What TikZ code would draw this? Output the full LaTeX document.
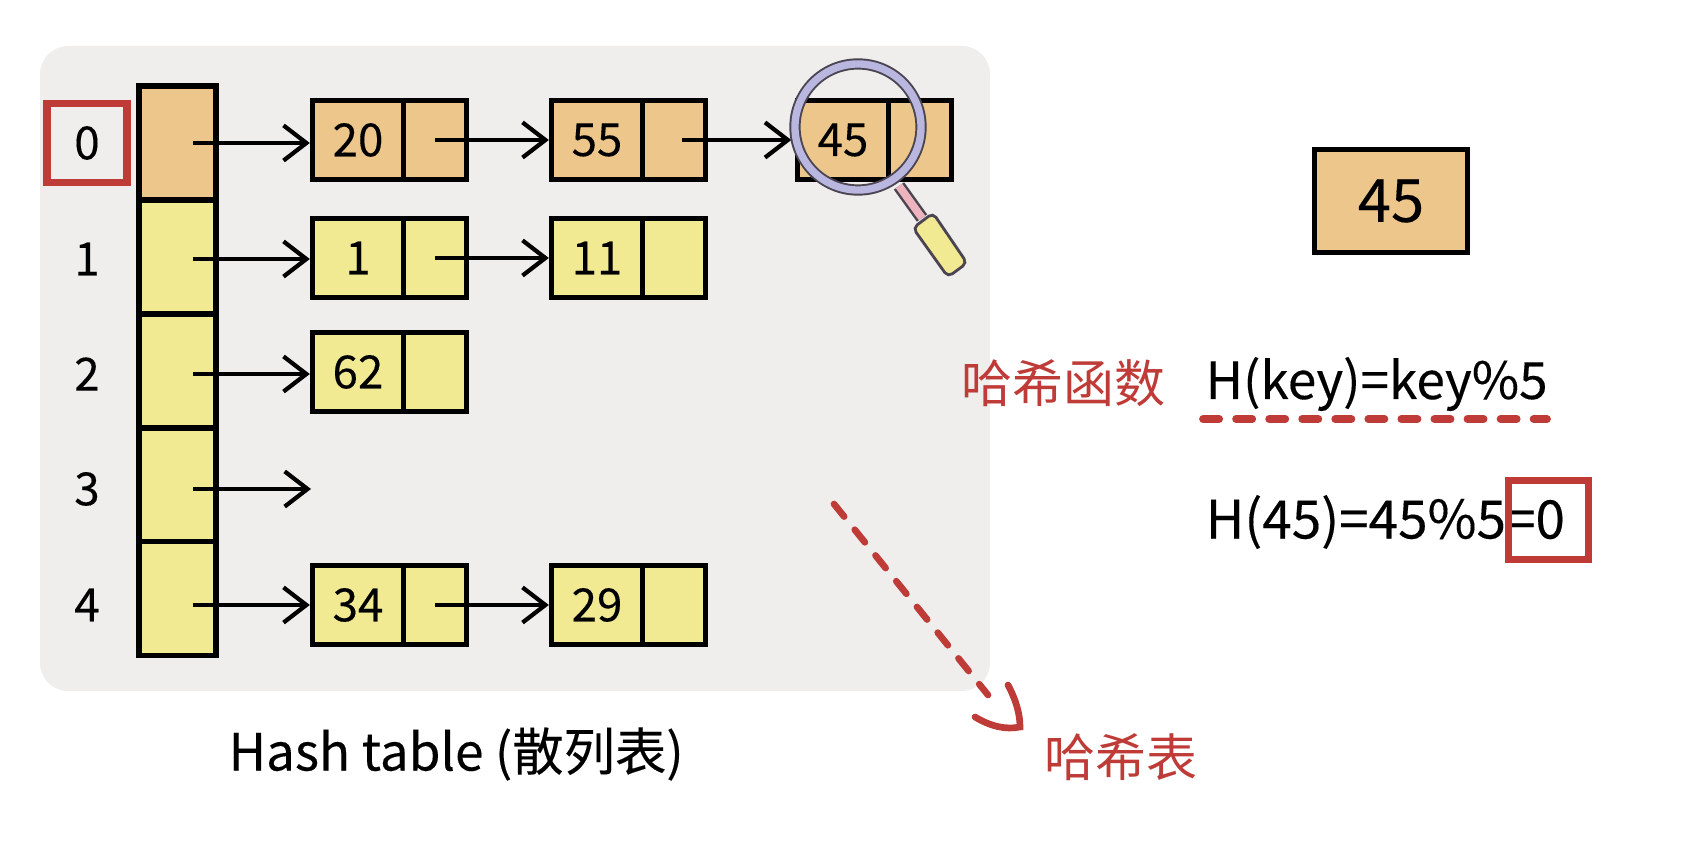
\documentclass[tikz,border=0pt]{standalone}
\usepackage{fontspec}
\setmainfont[FakeBold=0.25]{Noto Sans CJK SC}
\newfontfamily\cjk{Noto Sans CJK SC}
\usetikzlibrary{arrows.meta,positioning}
\definecolor{cellorange}{HTML}{EDC68B}
\definecolor{cellyellow}{HTML}{F2EA93}
\definecolor{panelgray}{HTML}{EFEEED}
\definecolor{markred}{HTML}{BF3B37}
\definecolor{lensblue}{HTML}{B9B6E0}
\definecolor{lensdark}{HTML}{4A4550}
\definecolor{stempink}{HTML}{EDB4C0}
\tikzset{
  bucket/.style={draw,line width=1.5pt,minimum width=0.77cm,minimum height=1.14cm,inner sep=0pt},
  keycell/.style={draw,line width=1.5pt,minimum width=0.91cm,minimum height=0.79cm,inner sep=0pt,font=\fontsize{13}{13}\selectfont},
  nextcell/.style={draw,line width=1.5pt,minimum width=0.63cm,minimum height=0.79cm,inner sep=0pt},
  indexlabel/.style={inner sep=0pt,font=\fontsize{13}{13}\selectfont},
  redbox/.style={draw=markred,line width=2.1pt,minimum width=0.8cm,minimum height=0.79cm,inner sep=0pt},
  link/.style={line width=1.2pt,-{Straight Barb[length=6.5pt,width=10pt,line width=1.2pt]}},
  redtext/.style={text=markred,font=\fontsize{14.5}{14.5}\selectfont\cjk,inner sep=0pt},
  formula/.style={inner sep=0pt,font=\fontsize{14.6}{14.6}\selectfont},
  reddash/.style={markred,line width=1.9pt,dash pattern=on 4.6pt off 4.8pt,line cap=round}
}
\begin{document}
\begin{tikzpicture}[x=0.01cm,y=-0.01cm]
  \useasboundingbox (0,0) rectangle (1696,864);
  \fill[panelgray,rounded corners=0.28cm] (40,46) rectangle (990,691);

  \foreach \i/\y/\col in {0/143/cellorange,1/257/cellyellow,2/371/cellyellow,3/485/cellyellow,4/598.5/cellyellow}
  {\node[bucket,fill=\col] (b\i) at (177.5,\y) {};};

  \foreach \i/\y in {0/143,1/259,2/374,3/489,4/605}
  {\node[indexlabel] (i\i) at (87,\y) {\i};
   \coordinate (s\i) at (193,\y);
  };
  \node[redbox] (hit) at (87,143) {};

  \foreach \val/\x/\y/\col in {20/358/140/cellorange,
                               55/597/140/cellorange,
                               45/843/140/cellorange,
                               1/358/258/cellyellow,
                               11/597/258/cellyellow,
                               62/358/372/cellyellow,
                               34/358/605/cellyellow,
                               29/597/605/cellyellow}
  {\node[keycell,fill=\col] (k\val) at (\x,\y) {\val};
   \node[nextcell,fill=\col,right=-1.5pt of k\val] (p\val) {};
  };

  \foreach \i/\val in {0/20,1/1,2/62,4/34}
  {\draw[link] (s\i) -- (k\val.west |- s\i);};
  \coordinate (e3) at (311,489);
  \draw[link] (s3) -- (e3);

  \foreach \from/\to in {20/55,1/11,34/29}
  {\draw[link] (p\from.center) -- (k\to.west |- p\from.center);};
  \draw[link,shorten >=1pt] ([xshift=0.08cm]p55.center) -- (k45.west);

  % magnifier
  \draw[lensdark,line width=3.2pt] (858,127) circle (0.63cm);
  \draw[lensblue,line width=2.1pt] (858,127) circle (0.63cm);
  \draw[lensdark,line width=3.6pt] (899,186) -- (922,218);
  \draw[stempink,line width=2.2pt] (899,186) -- (922,218);
  \draw[lensdark,fill=cellyellow,line width=0.8pt,rounded corners=1.5pt] (913,228) -- (933,213) -- (967,263) -- (948,277) -- cycle;

  \node[keycell,fill=cellorange,minimum width=1.53cm,minimum height=1.03cm,font=\fontsize{17}{17}\selectfont] (query) at (1391,201) {45};

  \node[redtext,anchor=west] (hashname) at (961,383) {哈希函数};
  \node[formula,anchor=west] (hashfn) at (1205,384) {H(key)=key\%5};
  \coordinate (ul) at (1203,419);
  \coordinate (ur) at (1547,419);
  \draw[reddash,line width=2.2pt] (ul) -- (ur);

  \node[formula,anchor=west,font=\fontsize{15.1}{15.1}\selectfont] (hashval) at (1205,522) {H(45)=45\%5=0};
  \node[redbox] (result) at (1548.5,520) {};

  \node[anchor=west,inner sep=0pt,font=\fontsize{14.6}{14.6}\selectfont] (caption) at (228,754) {Hash table (散列表)};
  \node[redtext,anchor=west] (tablename) at (1044,757) {哈希表};

  \coordinate (d0) at (834,504);
  \coordinate (d1) at (988,695);
  \coordinate (h0) at (1008,685);
  \coordinate (h1) at (1020,727);
  \coordinate (h2) at (975,717);
  \draw[reddash] (d0) -- (d1);
  \draw[markred,line width=1.9pt,line cap=round] (h0) .. controls (1016,700) and (1020,714) .. (h1) .. controls (1005,730) and (990,726) .. (h2);
\end{tikzpicture}
\end{document}
